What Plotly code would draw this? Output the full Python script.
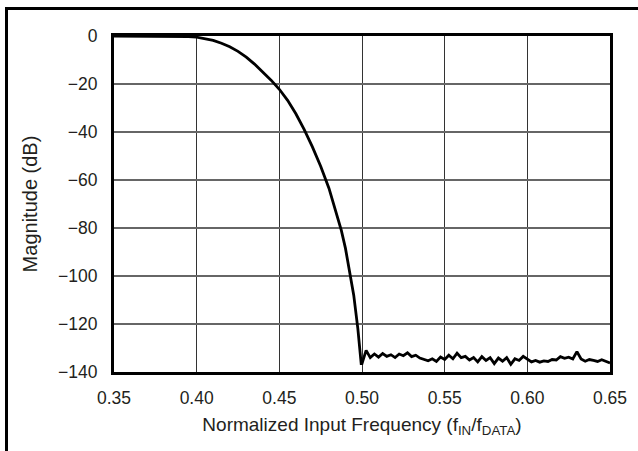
import plotly.graph_objects as go

# Roll-off region (normalized frequency, magnitude dB)
rolloff_freq = [0.350, 0.380, 0.390, 0.395, 0.400, 0.405, 0.410, 0.415, 0.420, 0.425, 0.430,
                0.435, 0.440, 0.445, 0.450, 0.455, 0.460, 0.465, 0.470, 0.475, 0.480,
                0.485, 0.4875, 0.490, 0.4925, 0.495, 0.4975, 0.4995]
rolloff_db = [0.0, 0.0, -0.1, -0.25, -0.5, -1.0, -1.8, -3.0, -4.5, -6.4, -8.8,
              -11.7, -15.0, -18.4, -22.2, -26.8, -32.4, -38.9, -46.2, -54.3, -63.4,
              -74.5, -81.0, -88.5, -97.5, -108.0, -122.0, -136.5]

# Stop-band noise floor
stop_freq = [0.5000, 0.5025, 0.5050, 0.5075, 0.5100, 0.5125, 0.5150, 0.5175, 0.5200, 0.5225,
             0.5250, 0.5275, 0.5300, 0.5325, 0.5350, 0.5375, 0.5400, 0.5425, 0.5450, 0.5475,
             0.5500, 0.5525, 0.5550, 0.5575, 0.5600, 0.5625, 0.5650, 0.5675, 0.5700, 0.5725,
             0.5750, 0.5775, 0.5800, 0.5825, 0.5850, 0.5875, 0.5900, 0.5925, 0.5950, 0.5975,
             0.6000, 0.6025, 0.6050, 0.6075, 0.6100, 0.6125, 0.6150, 0.6175, 0.6200, 0.6225,
             0.6250, 0.6275, 0.6300, 0.6325, 0.6350, 0.6375, 0.6400, 0.6425, 0.6450, 0.6475,
             0.6500]
stop_db = [-136.5, -131.0, -134.0, -132.5, -133.8, -132.3, -133.5, -132.8, -134.0, -132.5,
           -133.2, -132.0, -133.6, -133.0, -134.2, -134.8, -135.3, -134.5, -135.6, -133.8,
           -134.8, -133.0, -134.5, -132.2, -134.0, -133.5, -135.0, -134.0, -135.8, -133.6,
           -135.2, -134.0, -136.5, -134.2, -135.5, -134.0, -136.8, -134.5, -135.2, -133.5,
           -134.5, -135.8, -135.2, -135.9, -135.4, -135.6, -134.8, -135.0, -133.6, -134.3,
           -133.8, -134.6, -131.5, -134.6, -135.5, -134.8, -135.2, -135.6, -134.9, -135.4,
           -136.2]

x_ticks = [0.35, 0.40, 0.45, 0.50, 0.55, 0.60, 0.65]
y_ticks = [0, -20, -40, -60, -80, -100, -120, -140]

freq = rolloff_freq + stop_freq
mag = rolloff_db + stop_db

fig = go.Figure()
fig.add_trace(go.Scatter(x=freq, y=mag, mode="lines",
                         line=dict(color="black", width=2.8), hoverinfo="skip"))

W, H = 638, 451
L, R, T, B = 114, 28, 36, 79
pw, ph = W - L - R, H - T - B

def px_x(p):
    return (p - L) / pw

def px_y(p):
    return (H - B - p) / ph

fig.update_layout(
    width=W, height=H,
    margin=dict(l=L, r=R, t=T, b=B),
    paper_bgcolor="white", plot_bgcolor="white",
    showlegend=False,
    font=dict(family="Liberation Sans, Arial, sans-serif", size=17, color="#231f20"),
    shapes=[dict(type="rect", xref="paper", yref="paper",
                 x0=px_x(6.5), x1=px_x(700), y0=px_y(520), y1=px_y(8.5),
                 line=dict(color="black", width=3), layer="above")],
)
fig.update_xaxes(range=[0.35, 0.65], tickvals=x_ticks,
                 ticktext=[f"{v:.2f}" for v in x_ticks],
                 showgrid=True, gridcolor="#333", gridwidth=1.2,
                 showline=True, linecolor="black", linewidth=3, mirror=True,
                 ticks="", ticklabelstandoff=8, zeroline=False,
                 tickfont=dict(size=17.5),
                 title=dict(text="Normalized Input Frequency (f<sub>IN</sub>/f<sub>DATA</sub>)",
                            standoff=11, font=dict(size=19)))
fig.update_yaxes(range=[-140, 0], tickvals=y_ticks,
                 ticktext=[("\u2212" + str(-v)) if v < 0 else str(v) for v in y_ticks],
                 showgrid=True, gridcolor="#666", gridwidth=1.6,
                 showline=True, linecolor="black", linewidth=3, mirror=True,
                 ticks="", ticklabelstandoff=10, zeroline=False,
                 tickfont=dict(size=17.5),
                 title=dict(text="Magnitude (dB)", standoff=16, font=dict(size=20)))

fig.write_html("out.html", config={"displayModeBar": False},
               post_script="document.body.style.margin='0';document.body.style.padding='0';")
